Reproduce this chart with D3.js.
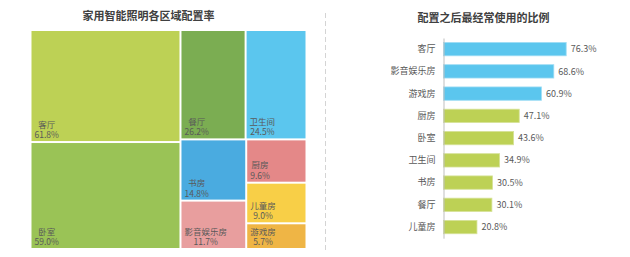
<!DOCTYPE html>
<html>
<head>
<meta charset="utf-8">
<script src="https://cdn.jsdelivr.net/npm/d3@7"></script>
<style>
  body { margin: 0; background: #fff; }
  svg { display: block; font-family: "Noto Sans CJK SC", "Noto Sans", sans-serif; }
</style>
</head>
<body>
<div id="chart"></div>
<script>
// treemap: configuration rate by room
const roomNames = ["客厅", "卧室", "餐厅", "卫生间", "书房", "影音娱乐房", "厨房", "儿童房", "游戏房"];
const roomRates = [61.8, 59.0, 26.2, 24.5, 14.8, 11.7, 9.6, 9.0, 5.7];
const roomColors = ["#bdd155", "#9ac356", "#7bad52", "#5bc6ee", "#4aabe0", "#e89e9e", "#e48888", "#f8cf47", "#efb545"];

// bar chart: share most often used after setup
const useNames = ["客厅", "影音娱乐房", "游戏房", "厨房", "卧室", "卫生间", "书房", "餐厅", "儿童房"];
const useRates = [76.3, 68.6, 60.9, 47.1, 43.6, 34.9, 30.5, 30.1, 20.8];
const useBlueCount = 3;

const W = 630, H = 257;
const svg = d3.select("#chart").append("svg")
    .attr("width", W)
    .attr("height", H);

const textColor = "#595959";

// ---- left: treemap ----
svg.append("text")
    .attr("x", 148.5)
    .attr("y", 20)
    .attr("text-anchor", "middle")
    .style("font-size", "11px")
    .style("font-weight", "bold")
    .style("fill", "#404040")
    .text("家用智能照明各区域配置率");

const root = d3.hierarchy({
        children: roomNames.map((n, i) => ({ name: n, value: roomRates[i], color: roomColors[i] }))
    })
    .sum(d => d.value || 0)
    .sort((a, b) => b.value - a.value);

d3.treemap()
    .tile(d3.treemapSquarify.ratio(1))
    .size([274, 217])
    .paddingInner(2)(root);

const tm = svg.append("g").attr("transform", "translate(31.5,31)");

const cell = tm.selectAll("g.cell")
    .data(root.leaves())
    .enter()
    .append("g")
    .attr("class", "cell");

cell.append("rect")
    .attr("x", d => d.x0)
    .attr("y", d => d.y0)
    .attr("width", d => d.x1 - d.x0)
    .attr("height", d => d.y1 - d.y0)
    .attr("fill", d => d.data.color);

// two-line label in the bottom-left corner, lines centred on each other
cell.each(function(d) {
    const g = d3.select(this);
    const name = g.append("text")
        .attr("y", d.y1 - 13.5)
        .attr("text-anchor", "middle")
        .style("font-size", "8.5px")
        .style("fill", textColor)
        .text(d.data.name);
    const pct = g.append("text")
        .attr("y", d.y1 - 3)
        .attr("text-anchor", "middle")
        .style("font-size", "8.5px")
        .style("fill", textColor)
        .text(d.data.value.toFixed(1) + "%");
    const w = Math.max(name.node().getComputedTextLength(), pct.node().getComputedTextLength());
    const cx = d.x0 + 3 + w / 2;
    name.attr("x", cx);
    pct.attr("x", cx);
});

// dashed separator
svg.append("line")
    .attr("x1", 325.5).attr("x2", 325.5)
    .attr("y1", 13).attr("y2", 252)
    .attr("stroke", "#d4d4d4")
    .attr("stroke-width", 1)
    .attr("stroke-dasharray", "5,3");

// ---- right: bar chart ----
svg.append("text")
    .attr("x", 483.5)
    .attr("y", 21.5)
    .attr("text-anchor", "middle")
    .style("font-size", "11px")
    .style("font-weight", "bold")
    .style("fill", "#404040")
    .text("配置之后最经常使用的比例");

const axisX = 443.5;
const x = d3.scaleLinear().domain([0, 100]).range([axisX, axisX + 160.8]);
const y = d3.scaleBand()
    .domain(useNames)
    .range([38, 238.2])
    .paddingInner(0.4)
    .paddingOuter(0.2);

const bars = svg.append("g");

bars.selectAll("rect")
    .data(useNames)
    .enter()
    .append("rect")
    .attr("x", x(0))
    .attr("y", d => y(d))
    .attr("width", (d, i) => x(useRates[i]) - x(0))
    .attr("height", y.bandwidth())
    .attr("fill", (d, i) => i < useBlueCount ? "#5bc6ee" : "#bdd155")
    .attr("stroke", (d, i) => i < useBlueCount ? "#9edcf4" : "#d6e298")
    .attr("stroke-width", 0.8);

bars.selectAll("text.val")
    .data(useNames)
    .enter()
    .append("text")
    .attr("class", "val")
    .attr("x", (d, i) => x(useRates[i]) + 4.5)
    .attr("y", d => y(d) + y.bandwidth() / 2)
    .attr("dy", "0.35em")
    .style("font-size", "9px")
    .style("fill", textColor)
    .text((d, i) => useRates[i].toFixed(1) + "%");

const yAxis = svg.append("g")
    .attr("transform", `translate(${axisX},0)`)
    .call(d3.axisLeft(y).tickSize(0).tickPadding(8));

yAxis.select(".domain").attr("stroke", "#bfbfbf");
yAxis.selectAll("text")
    .style("font-size", "9px")
    .style("fill", textColor)
    .style("font-family", "\"Noto Sans CJK SC\", sans-serif");
</script>
</body>
</html>
